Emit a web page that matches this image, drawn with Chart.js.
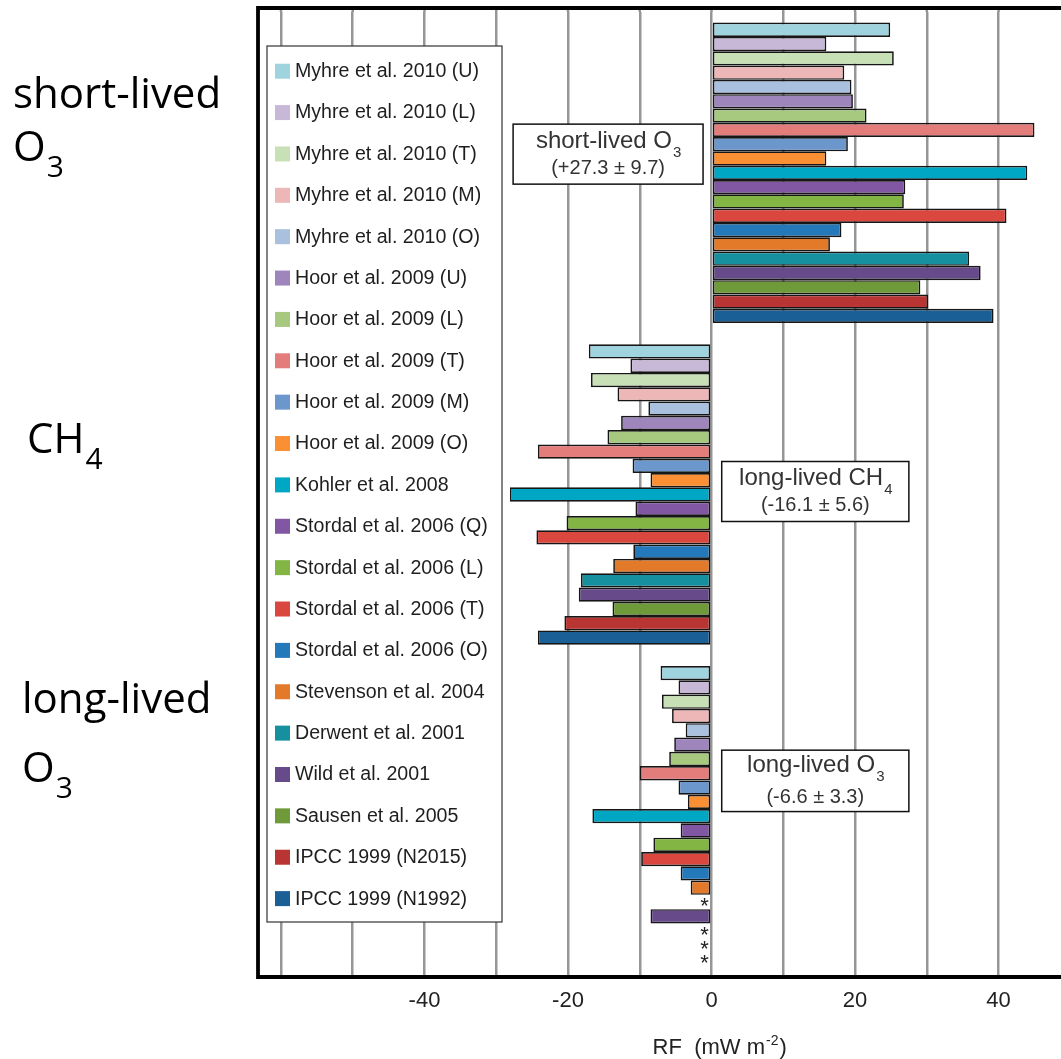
<!DOCTYPE html>
<html>
<head>
<meta charset="utf-8">
<script src="https://cdn.jsdelivr.net/npm/chart.js@4.4.0/dist/chart.umd.min.js"></script>
<style>
  html, body { margin: 0; padding: 0; background: #fff; overflow: hidden; }
</style>
</head>
<body>
<canvas id="rf-chart" width="1061" height="1059"></canvas>
<script>
// radiative forcing of NOx emissions from aviation, per study

const groups = ["short-lived O3", "CH4", "long-lived O3"];

const studies = [
  "Myhre et al. 2010 (U)",
  "Myhre et al. 2010 (L)",
  "Myhre et al. 2010 (T)",
  "Myhre et al. 2010 (M)",
  "Myhre et al. 2010 (O)",
  "Hoor et al. 2009 (U)",
  "Hoor et al. 2009 (L)",
  "Hoor et al. 2009 (T)",
  "Hoor et al. 2009 (M)",
  "Hoor et al. 2009 (O)",
  "Kohler et al. 2008",
  "Stordal et al. 2006 (Q)",
  "Stordal et al. 2006 (L)",
  "Stordal et al. 2006 (T)",
  "Stordal et al. 2006 (O)",
  "Stevenson et al. 2004",
  "Derwent et al. 2001",
  "Wild et al. 2001",
  "Sausen et al. 2005",
  "IPCC 1999 (N2015)",
  "IPCC 1999 (N1992)",
];

const shortLivedO3 = [
  24.9, 16.0, 25.4, 18.5, 19.5, 19.7, 21.6, 45.0, 19.0, 16.0, 44.0,
  27.0, 26.8, 41.1, 18.1, 16.5, 35.9, 37.5, 29.1, 30.2, 39.3,
];

const methane = [
  -17.1, -11.3, -16.8, -13.1, -8.8, -12.6, -14.5, -24.2, -11.0, -8.5, -28.1,
  -10.6, -20.2, -24.4, -10.9, -13.7, -18.2, -18.5, -13.8, -20.5, -24.2,
];

// null = not reported (drawn as an asterisk)
const longLivedO3 = [
  -7.1, -4.6, -6.9, -5.5, -3.6, -5.2, -5.9, -10.0, -4.6, -3.3, -16.6,
  -4.3, -8.1, -9.8, -4.3, -2.9, null, -8.5, null, null, null,
];

const studyColors = [
  "#9fd4df", "#c7b8d8", "#c8e0b5", "#edb7b7", "#a9c0de",
  "#9e86bd", "#a6c87f", "#e37d7b", "#6c97cc", "#fb8f33",
  "#00a7c5", "#8156a3", "#83b545", "#d9473f", "#2479ba",
  "#e27a2a", "#16909f", "#674a8a", "#6f9a3a", "#b93533", "#1b5f97",
];

const summaryNames = [["short-lived O", "3"], ["long-lived CH", "4"], ["long-lived O", "3"]];
const summaryValues = ["(+27.3 ± 9.7)", "(-16.1 ± 5.6)", "(-6.6 ± 3.3)"];

// box placement: x in data units, y in px from the group centre
const summaryBoxes = [
  { x0: -27.65, x1: -1.18, y0: -48.7, y1: 11.3, l1: -32.7, l2: -5.7 },
  { x0: 1.42, x1: 27.5, y0: -33, y1: 27, l1: -17.3, l2: 9.3 },
  { x0: 1.42, x1: 27.5, y0: -66, y1: -4.6, l1: -52, l2: -20.3 },
];

// group names on the left, px from the group centre
const sideLabels = [
  [{ text: "short-lived", x: 13, dy: -64.7 }, { text: "O", sub: "3", x: 13, dy: -11.7 }],
  [{ text: "CH", sub: "4", x: 27, dy: -42 }],
  [{ text: "long-lived", x: 22, dy: -103 }, { text: "O", sub: "3", x: 22, dy: -34 }],
];

const SANS = "'Liberation Sans', Arial, Helvetica, sans-serif";

function drawWithSub(ctx, main, sub, x, y, font, subFont, subDrop, align) {
  ctx.font = font;
  const w1 = ctx.measureText(main).width;
  ctx.font = subFont;
  const w2 = sub ? ctx.measureText(sub).width : 0;
  let start = x;
  if (align === "center") start = x - (w1 + w2) / 2;
  ctx.textAlign = "left";
  ctx.textBaseline = "alphabetic";
  ctx.font = font;
  ctx.fillText(main, start, y);
  if (sub) {
    ctx.font = subFont;
    ctx.fillText(sub, start + w1 + 1, y + subDrop);
  }
}

const decorations = {
  id: "decorations",

  beforeDatasetsDraw(chart) {
    const { ctx, chartArea: { top }, scales: { x } } = chart;
    ctx.save();
    ctx.strokeStyle = "#969696";
    ctx.lineWidth = 2.5;
    x.ticks.forEach((t) => {
      const px = x.getPixelForValue(t.value);
      ctx.beginPath();
      ctx.moveTo(px, top - 5);
      ctx.lineTo(px, top);
      ctx.stroke();
    });
    ctx.restore();
  },

  afterDatasetsDraw(chart) {
    const { ctx, chartArea: { top, bottom, left, right }, scales: { x, y } } = chart;
    const zero = x.getPixelForValue(0);
    ctx.save();

    // asterisks for missing values
    ctx.fillStyle = "#222";
    ctx.font = "22px " + SANS;
    ctx.textAlign = "center";
    ctx.textBaseline = "alphabetic";
    chart.data.datasets.forEach((ds, i) => {
      const meta = chart.getDatasetMeta(i);
      ds.data.forEach((v, j) => {
        if (v === null) {
          const el = meta.data[j];
          ctx.fillText("*", zero - 7, el.y + 11);
        }
      });
    });

    // frame (right side is cut off in the original)
    ctx.strokeStyle = "#000";
    ctx.lineWidth = 3.8;
    ctx.beginPath();
    ctx.moveTo(right + 5, top - 4);
    ctx.lineTo(left, top - 4);
    ctx.lineTo(left, bottom);
    ctx.lineTo(right + 5, bottom);
    ctx.stroke();

    // legend box
    const lx = 267, ly = 46, lw = 235, lh = 876;
    ctx.fillStyle = "#fff";
    ctx.fillRect(lx, ly, lw, lh);
    ctx.strokeStyle = "#333";
    ctx.lineWidth = 1.2;
    ctx.strokeRect(lx, ly, lw, lh);
    ctx.font = "19.6px " + SANS;
    ctx.textAlign = "left";
    ctx.textBaseline = "middle";
    chart.data.datasets.forEach((ds, i) => {
      const cy = 70.7 + i * 41.37;
      ctx.fillStyle = ds.backgroundColor;
      ctx.fillRect(275, cy - 7, 15, 15);
      ctx.fillStyle = "#1e1e1e";
      ctx.fillText(ds.label, 295, cy + 1);
    });

    // summary boxes
    summaryBoxes.forEach((b, g) => {
      const cy = y.getPixelForValue(g);
      const bx0 = x.getPixelForValue(b.x0);
      const bx1 = x.getPixelForValue(b.x1);
      ctx.fillStyle = "#fff";
      ctx.fillRect(bx0, cy + b.y0, bx1 - bx0, b.y1 - b.y0);
      ctx.strokeStyle = "#111";
      ctx.lineWidth = 1.5;
      ctx.strokeRect(bx0, cy + b.y0, bx1 - bx0, b.y1 - b.y0);
      ctx.fillStyle = "#333";
      const mid = (bx0 + bx1) / 2;
      drawWithSub(ctx, summaryNames[g][0], summaryNames[g][1], mid, cy + b.l1 + 8,
        "24px " + SANS, "15px " + SANS, 9, "center");
      ctx.font = "20px " + SANS;
      ctx.textAlign = "center";
      ctx.fillText(summaryValues[g], mid, cy + b.l2 + 7);
    });

    ctx.restore();
  },

  afterDraw(chart) {
    const { ctx, scales: { x, y } } = chart;
    ctx.save();

    // group names left of the plot
    ctx.fillStyle = "#000";
    sideLabels.forEach((lines, g) => {
      const cy = y.getPixelForValue(g);
      lines.forEach((ln) => {
        drawWithSub(ctx, ln.text, ln.sub, ln.x, cy + ln.dy,
          "42px 'Open Sans', sans-serif", "30px 'Open Sans', sans-serif", 16, "left");
      });
    });

    // axis title with superscript
    ctx.fillStyle = "#222";
    ctx.font = "22px " + SANS;
    const t1 = "RF  (mW m";
    const w1 = ctx.measureText(t1).width;
    ctx.font = "14px " + SANS;
    const w2 = ctx.measureText("-2").width;
    ctx.font = "22px " + SANS;
    const w3 = ctx.measureText(")").width;
    const start = x.getPixelForValue(1) - (w1 + w2 + w3) / 2;
    ctx.textAlign = "left";
    ctx.textBaseline = "alphabetic";
    ctx.fillText(t1, start, 1054);
    ctx.font = "14px " + SANS;
    ctx.fillText("-2", start + w1 + 1, 1045);
    ctx.font = "22px " + SANS;
    ctx.fillText(")", start + w1 + w2 + 2, 1054);

    ctx.restore();
  },
};

const datasets = studies.map((name, i) => ({
  label: name,
  data: [shortLivedO3[i], methane[i], longLivedO3[i]],
  backgroundColor: studyColors[i],
  borderColor: "#161616",
  borderWidth: 1.7,
  borderSkipped: false,
  categoryPercentage: 0.934,
  barPercentage: 1,
}));

const options = {
  responsive: false,
  animation: false,
  indexAxis: "y",
  layout: { padding: { left: 258, top: 12, right: 0, bottom: 0 } },
  scales: {
    x: {
      min: -63.2,
      max: 48.7,
      grid: { color: "#969696", lineWidth: 2.5, drawTicks: false },
      border: { display: false },
      ticks: {
        stepSize: 10,
        includeBounds: false,
        autoSkip: false,
        maxRotation: 0,
        padding: 11,
        color: "#222",
        font: { family: SANS, size: 22 },
        callback: (v) => (v % 20 === 0 && v > -60 ? String(v) : ""),
      },
      afterFit(scale) {
        scale.height = 82;
      },
    },
    y: {
      display: false,
    },
  },
  plugins: {
    legend: { display: false },
    tooltip: { enabled: false },
  },
};

const rfChart = new Chart(document.getElementById("rf-chart").getContext("2d"), {
  type: "bar",
  data: { labels: groups, datasets: datasets },
  options: options,
  plugins: [decorations],
});
</script>
</body>
</html>
